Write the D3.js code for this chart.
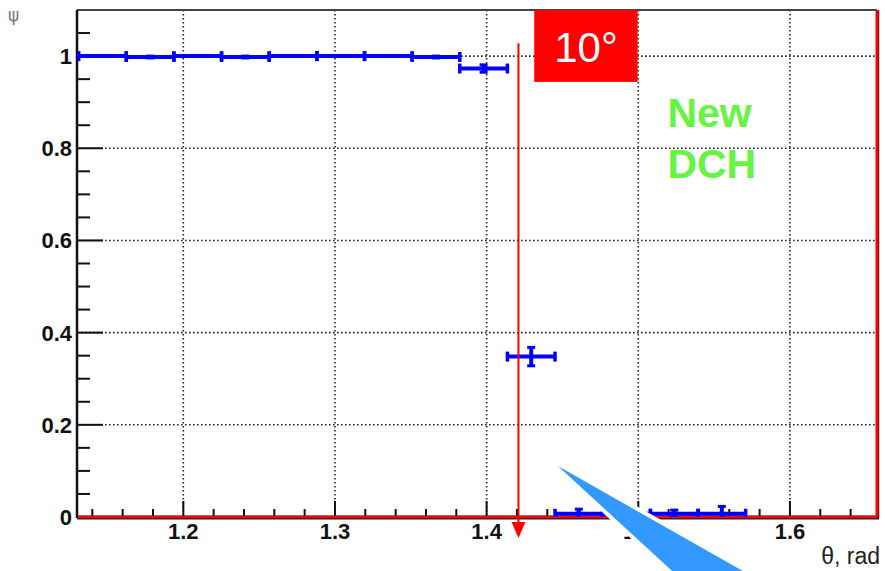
<!DOCTYPE html>
<html>
<head>
<meta charset="utf-8">
<script src="https://cdn.jsdelivr.net/npm/d3@7"></script>
<style>
  body { margin: 0; background: #fff; }
  svg { display: block; font-family: "Liberation Sans", Arial, Helvetica, sans-serif; }
</style>
</head>
<body>
<svg id="chart" width="885" height="571"></svg>
<script>
// Efficiency vs polar angle, bins of pi/100 ending at pi/2
const binEdges = [1.1310, 1.1624, 1.1938, 1.2252, 1.2566, 1.2881, 1.3195, 1.3509,
                  1.3823, 1.4137, 1.4451, 1.4765, 1.5080, 1.5394, 1.5708];
const efficiency = [1.000, 0.998, 1.000, 0.998, 1.000, 1.000, 1.000, 0.998,
                    0.973, 0.348, 0.007, 0.007, 0.007, 0.007];
const effError = [0, 0.002, 0, 0.002, 0, 0, 0, 0.002,
                  0.008, 0.020, 0.010, 0.005, 0.008, 0.016];

const xTicks = [1.2, 1.3, 1.4, 1.5, 1.6];
const xTickLabels = ["1.2", "1.3", "1.4", "1.5", "1.6"];
const yTicks = [0, 0.2, 0.4, 0.6, 0.8, 1];
const yTickLabels = ["0", "0.2", "0.4", "0.6", "0.8", "1"];

// annotations, in data units
const arrowTheta = 1.4210;
const arrowTop = 1.028;
const boxTheta = [1.4314, 1.4996];
const boxEff = [0.944, 1.1];
const noteLines = ["New", "DCH"];
const noteTheta = 1.5192;
const noteEff = [0.846, 0.7347];
const wedge = [[1.4470, 0.1106], [1.5288, -0.1367], [1.5794, -0.1367]];

const svg = d3.select('#chart');
const x = d3.scaleLinear().domain([1.1299, 1.6574]).range([77, 877]);
const y = d3.scaleLinear().domain([0, 1.1]).range([517, 10]);
const [x0, x1] = x.range();
const [y0, y1] = y.range();

svg.append('rect').attr('width', 885).attr('height', 571).attr('fill', '#fff');

// dotted grid
const grid = svg.append('g').attr('stroke', '#222').attr('stroke-width', 1.6)
  .attr('stroke-dasharray', '1.6,2.4');
grid.selectAll('.gx').data(xTicks).enter().append('line')
  .attr('x1', d => x(d)).attr('x2', d => x(d)).attr('y1', y1).attr('y2', y0);
grid.selectAll('.gy').data(yTicks.filter(d => d > 0)).enter().append('line')
  .attr('x1', x0).attr('x2', x1).attr('y1', d => y(d)).attr('y2', d => y(d));

// ticks
const ticks = svg.append('g').attr('stroke', '#111').attr('stroke-width', 2);
const xMinor = d3.range(1.14, 1.65, 0.02);
ticks.selectAll('.tx').data(xMinor).enter().append('line')
  .attr('x1', d => x(d)).attr('x2', d => x(d)).attr('y1', y0)
  .attr('y2', d => y0 - (Math.abs(d * 10 - Math.round(d * 10)) < 1e-6 ? 16 : 8));
const yMinor = d3.range(0.05, 1.09, 0.05);
ticks.selectAll('.ty').data(yMinor).enter().append('line')
  .attr('y1', d => y(d)).attr('y2', d => y(d)).attr('x1', x0)
  .attr('x2', d => x0 + (Math.abs(d * 5 - Math.round(d * 5)) < 1e-6 ? 26 : 13));

// frame
svg.append('line').attr('x1', x0).attr('x2', x1).attr('y1', y1).attr('y2', y1)
  .attr('stroke', '#444').attr('stroke-width', 2);
svg.append('line').attr('x1', x0).attr('x2', x0).attr('y1', y1).attr('y2', y0 + 1)
  .attr('stroke', '#111').attr('stroke-width', 2.5);
svg.append('line').attr('x1', x0).attr('x2', x1 + 2).attr('y1', y0 + 0.5).attr('y2', y0 + 0.5)
  .attr('stroke', '#222').attr('stroke-width', 4);
svg.append('line').attr('x1', x1 + 1.5).attr('x2', x1 + 1.5).attr('y1', y1).attr('y2', y0)
  .attr('stroke', '#222').attr('stroke-width', 1.5);
// red overlays on bottom and right edge
svg.append('line').attr('x1', x0 + 1).attr('x2', x1).attr('y1', y0).attr('y2', y0)
  .attr('stroke', '#ff0000').attr('stroke-width', 2.5);
svg.append('line').attr('x1', x1).attr('x2', x1).attr('y1', y1).attr('y2', y0)
  .attr('stroke', '#ff0000').attr('stroke-width', 3);

// data
svg.append('clipPath').attr('id', 'plotClip').append('rect')
  .attr('x', x0).attr('y', y1).attr('width', x1 - x0).attr('height', y0 - y1);
const bins = efficiency.map((v, i) => ({ lo: binEdges[i], hi: binEdges[i + 1], v, e: effError[i] }));
const data = svg.append('g').attr('clip-path', 'url(#plotClip)')
  .attr('stroke', '#0000ff').attr('fill', 'none');
const bin = data.selectAll('g').data(bins).enter().append('g');
bin.append('line').attr('stroke-width', 4)
  .attr('x1', d => x(d.lo)).attr('x2', d => x(d.hi))
  .attr('y1', d => y(d.v)).attr('y2', d => y(d.v));
['lo', 'hi'].forEach(k => {
  bin.append('line').attr('stroke-width', 3.5)
    .attr('x1', d => x(d[k])).attr('x2', d => x(d[k]))
    .attr('y1', d => y(d.v) - 5).attr('y2', d => y(d.v) + 5);
});
const err = bin.filter(d => d.e > 0);
err.append('line').attr('stroke-width', 4)
  .attr('x1', d => x((d.lo + d.hi) / 2)).attr('x2', d => x((d.lo + d.hi) / 2))
  .attr('y1', d => y(d.v - d.e)).attr('y2', d => y(d.v + d.e));
[-1, 1].forEach(s => {
  err.append('line').attr('stroke-width', 3)
    .attr('x1', d => x((d.lo + d.hi) / 2) - 4).attr('x2', d => x((d.lo + d.hi) / 2) + 4)
    .attr('y1', d => y(d.v + s * d.e)).attr('y2', d => y(d.v + s * d.e));
});

// red arrow at the 10 degree boundary
const ax = x(arrowTheta);
svg.append('line').attr('x1', ax).attr('x2', ax).attr('y1', y(arrowTop)).attr('y2', y0 + 6)
  .attr('stroke', '#ff0000').attr('stroke-width', 2);
svg.append('path')
  .attr('d', `M${ax - 7},${y0 + 5}L${ax + 7},${y0 + 5}L${ax},${y0 + 21}Z`)
  .attr('fill', '#ff0000');

// red label box
svg.append('rect')
  .attr('x', x(boxTheta[0])).attr('width', x(boxTheta[1]) - x(boxTheta[0]))
  .attr('y', y(boxEff[1])).attr('height', y(boxEff[0]) - y(boxEff[1]))
  .attr('fill', '#ff0000');
svg.append('text').attr('x', x((boxTheta[0] + boxTheta[1]) / 2)).attr('y', y(0.987))
  .attr('text-anchor', 'middle').attr('fill', '#fff').attr('font-size', 42)
  .text('10°');

svg.selectAll('.note').data(noteLines).enter().append('text')
  .attr('x', x(noteTheta)).attr('y', (d, i) => y(noteEff[i]))
  .attr('fill', '#66f542').attr('font-size', 41).attr('font-weight', 'bold')
  .text(d => d);

// tick labels
svg.selectAll('.xl').data(xTicks).enter().append('text')
  .attr('x', d => x(d)).attr('y', y0 + 22)
  .attr('text-anchor', 'middle').attr('font-size', 22).attr('font-weight', 'bold')
  .attr('fill', '#111').text((d, i) => xTickLabels[i]);
svg.selectAll('.yl').data(yTicks).enter().append('text')
  .attr('x', 72).attr('y', d => y(d) + 8)
  .attr('text-anchor', 'end').attr('font-size', 22).attr('font-weight', 'bold')
  .attr('fill', '#111').text((d, i) => yTickLabels[i]);

svg.append('text').attr('x', 880).attr('y', 564).attr('text-anchor', 'end')
  .attr('font-size', 23).attr('fill', '#222').text('θ, rad');
svg.append('text').attr('x', 8).attr('y', 21).attr('font-size', 17)
  .attr('fill', '#777').attr('font-family', 'DejaVu Sans').text('ψ');

// blue callout wedge over the axis
svg.append('path')
  .attr('d', 'M' + wedge.map(p => [x(p[0]), y(p[1])].join(',')).join('L') + 'Z')
  .attr('fill', '#3399ff').attr('stroke', '#fff').attr('stroke-width', 8)
  .attr('stroke-linejoin', 'round').style('paint-order', 'stroke');
</script>
</body>
</html>
